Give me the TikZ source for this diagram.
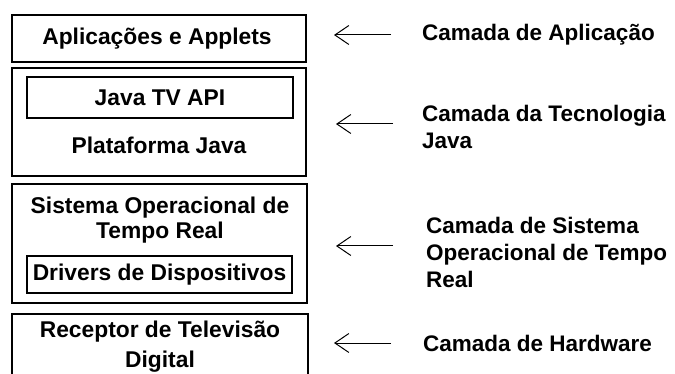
\documentclass[tikz,border=0pt]{standalone}
\usepackage{fontspec}
\setmainfont{Liberation Sans}
\usetikzlibrary{arrows.meta}

\begin{document}
\begin{tikzpicture}[x=1pt,y=-1pt,
  layer/.style={draw,line width=1.6pt,minimum width=294pt,inner sep=0pt},
  inbox/.style={draw,line width=1.4pt,minimum width=266pt,inner sep=0pt},
  txt/.style={font=\fontsize{22.8}{25}\selectfont\bfseries,align=center,inner sep=0pt},
  lbl/.style={font=\fontsize{22.5}{27}\selectfont\bfseries,align=left,anchor=west,inner sep=0pt},
  arr/.style={line width=1pt,-{Straight Barb[length=14pt,width=19pt,line width=1pt]}}]
\useasboundingbox (0,0) rectangle (675,374);
\node[layer,minimum height=47pt] (apps) at (159,38.5) {};
\node[txt] (appstext) at (157,38.5) {Aplicações e Applets};
\node[layer,minimum height=108pt] (java) at (159,122) {};
\node[inbox,minimum height=41pt] (jtv) at (160,97.5) {};
\node[txt] (jtvtext) at (160,97.5) {Java TV API};
\node[txt] (javatext) at (159,145) {Plataforma Java};
\node[layer,minimum height=119pt,minimum width=295pt] (rtos) at (159.5,243.5) {};
\node[txt] (rtostext) at (160,220.5) {Sistema Operacional de\\Tempo Real};
\node[inbox,minimum height=37pt,minimum width=265pt] (drv) at (159.5,274.5) {};
\node[txt] (drvtext) at (159.5,275) {Drivers de Dispositivos};
\node[layer,minimum height=90pt,minimum width=296pt,anchor=north] (hw) at (160,313) {};
\node[txt,font=\fontsize{22.8}{30}\selectfont\bfseries] (hwtext) at (160,347) {Receptor de Televisão\\Digital};
\node[lbl] (l1) at (422,35) {Camada de Aplicação};
\node[lbl] (l2) at (422,126.5) {Camada da Tecnologia\\Java};
\node[lbl] (l3) at (426,252) {Camada de Sistema\\Operacional de Tempo\\Real};
\node[lbl] (l4) at (423,343) {Camada de Hardware};
\coordinate (t1) at (391,35); \coordinate (h1) at (334,35);
\coordinate (t2) at (393,124); \coordinate (h2) at (336,124);
\coordinate (t3) at (393,246); \coordinate (h3) at (336,246);
\coordinate (t4) at (391,343); \coordinate (h4) at (334,343);
\draw[arr] (t1) -- (h1);
\draw[arr] (t2) -- (h2);
\draw[arr] (t3) -- (h3);
\draw[arr] (t4) -- (h4);
\end{tikzpicture}
\end{document}
